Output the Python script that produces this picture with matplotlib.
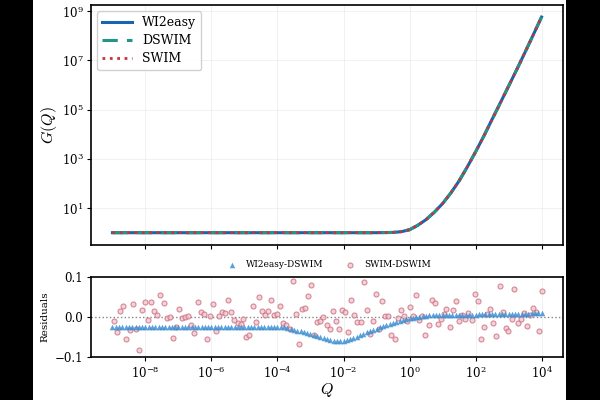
import numpy as np
import matplotlib
matplotlib.use("Agg")
import matplotlib.pyplot as plt
from matplotlib.patches import Rectangle
from matplotlib.ticker import NullLocator, FixedLocator

plt.rcParams['font.family'] = ['DejaVu Serif']
plt.rcParams['mathtext.fontset'] = 'dejavuserif'

# ---- main curve G(Q) (log10 values) ----
logQ_curve = [-9.0, -8.0, -7.0, -6.0, -5.0, -4.0, -3.0, -2.0, -1.0, -0.5, -0.25, 0.0,
              0.25, 0.5, 0.75, 1.0, 1.25, 1.5, 1.75, 2.0, 2.25, 2.5, 2.75, 3.0,
              3.25, 3.5, 3.75, 4.0]
logG_wi2easy = [0.0, 0.0, 0.0, 0.0, 0.0, 0.0, 0.0, 0.0, 0.0, 0.01, 0.04, 0.12,
                0.30, 0.53, 0.83, 1.18, 1.61, 2.10, 2.67, 3.28, 3.92, 4.60, 5.27, 5.95,
                6.63, 7.33, 8.04, 8.76]
logG_dswim = list(logG_wi2easy)
logG_swim = list(logG_wi2easy)

# ---- residuals: WI2easy - DSWIM ----
logQ_res1 = [round(-9.0 + 0.1 * i, 1) for i in range(131)]
res_wi2easy = ([-0.024] * 51 +
               [-0.025, -0.026, -0.028, -0.030, -0.032, -0.034, -0.036, -0.038, -0.041, -0.043,
                -0.046, -0.048, -0.051, -0.053, -0.055, -0.057, -0.059, -0.060, -0.060, -0.059,
                -0.057, -0.055, -0.052, -0.049, -0.046, -0.042, -0.038, -0.035, -0.032, -0.029,
                -0.026, -0.023, -0.020, -0.017, -0.015, -0.012, -0.009, -0.007, -0.005, -0.003,
                -0.002, 0.000, 0.001, 0.002, 0.003, 0.004, 0.004, 0.005, 0.005, 0.005,
                0.005, 0.006, 0.006, 0.006, 0.006, 0.006, 0.006, 0.006, 0.006, 0.006,
                0.007, 0.007, 0.007, 0.007, 0.007, 0.007, 0.007, 0.007, 0.007, 0.007,
                0.008, 0.008, 0.008, 0.008, 0.008, 0.008, 0.009, 0.009, 0.009, 0.010])

# ---- residuals: SWIM - DSWIM ----
logQ_res2 = [-8.95, -8.86, -8.76, -8.68, -8.58, -8.48, -8.39, -8.29, -8.21, -8.11,
             -8.02, -7.92, -7.83, -7.74, -7.65, -7.55, -7.45, -7.36, -7.26, -7.18,
             -7.08, -6.99, -6.90, -6.81, -6.71, -6.62, -6.52, -6.42, -6.33, -6.24,
             -6.15, -6.05, -5.96, -5.87, -5.78, -5.68, -5.59, -5.50, -5.40, -5.31,
             -5.21, -5.12, -5.03, -4.94, -4.85, -4.75, -4.66, -4.57, -4.48, -4.38,
             -4.28, -4.20, -4.10, -4.01, -3.91, -3.82, -3.73, -3.63, -3.54, -3.45,
             -3.35, -3.25, -3.16, -3.07, -2.98, -2.89, -2.79, -2.70, -2.61, -2.51,
             -2.42, -2.32, -2.23, -2.13, -2.04, -1.95, -1.85, -1.76, -1.67, -1.58,
             -1.48, -1.39, -1.30, -1.20, -1.11, -1.01, -0.92, -0.83, -0.74, -0.64,
             -0.55, -0.45, -0.36, -0.26, -0.17, -0.08, 0.01, 0.11, 0.20, 0.29,
             0.38, 0.48, 0.58, 0.67, 0.77, 0.85, 0.94, 1.04, 1.12, 1.22,
             1.31, 1.40, 1.50, 1.60, 1.69, 1.78, 1.88, 1.97, 2.06, 2.16,
             2.25, 2.34, 2.44, 2.52, 2.61, 2.73, 2.82, 2.91, 2.99, 3.09,
             3.18, 3.28, 3.37, 3.46, 3.55, 3.64, 3.74, 3.84, 3.93, 4.00]
res_swim = [-0.010, -0.037, 0.014, 0.027, -0.056, -0.033, 0.033, -0.029, -0.082, 0.017,
            0.037, -0.008, 0.037, 0.015, 0.004, 0.055, 0.034, -0.003, 0.000, -0.053,
            -0.024, 0.020, -0.003, 0.001, 0.002, -0.020, -0.039, 0.038, 0.012, 0.007,
            -0.054, 0.002, 0.032, -0.035, 0.003, 0.012, 0.010, 0.043, 0.012, -0.007,
            -0.015, -0.018, -0.004, -0.049, -0.046, 0.028, -0.012, 0.050, 0.015, 0.004,
            0.015, 0.043, 0.004, 0.008, 0.027, -0.014, -0.021, -0.029, 0.091, 0.008,
            -0.068, 0.021, 0.023, 0.052, 0.079, -0.044, -0.012, -0.009, 0.001, -0.021,
            -0.029, 0.014, -0.010, -0.030, 0.017, 0.012, -0.037, 0.042, 0.005, -0.012,
            -0.012, 0.087, 0.017, -0.042, -0.010, 0.057, -0.031, 0.039, 0.002, 0.002,
            -0.044, -0.054, -0.002, 0.017, 0.003, -0.010, 0.025, 0.002, 0.054, -0.007,
            0.002, -0.044, -0.020, 0.042, 0.035, -0.018, -0.004, 0.008, 0.021, -0.026,
            0.017, 0.041, -0.010, 0.006, -0.006, 0.010, -0.007, 0.057, 0.041, -0.054,
            -0.024, 0.007, 0.019, -0.016, -0.048, 0.077, 0.013, -0.027, -0.034, -0.005,
            0.069, -0.016, -0.004, 0.009, -0.022, 0.005, 0.022, 0.013, -0.034, 0.066]

xticks = [1e-8, 1e-6, 1e-4, 1e-2, 1e0, 1e2, 1e4]
yticks_top = [1e1, 1e3, 1e5, 1e7, 1e9]

Qc = 10.0 ** np.array(logQ_curve)
Q1 = 10.0 ** np.array(logQ_res1)
Q2 = 10.0 ** np.array(logQ_res2)

fig = plt.figure(figsize=(6, 4), dpi=100)
fig.patch.set_facecolor('black')
fig.patches.append(Rectangle((33 / 600, 0), (566 - 33) / 600, 1, transform=fig.transFigure,
                             facecolor='white', edgecolor='none', zorder=-10))

ax1 = fig.add_axes([91 / 600, 155 / 400, 472 / 600, 240 / 400])
ax2 = fig.add_axes([91 / 600, 43 / 400, 472 / 600, 80 / 400], sharex=ax1)

ax1.plot(Qc, 10.0 ** np.array(logG_wi2easy), '-', color='#1565b0', lw=2.2, label='WI2easy')
ax1.plot(Qc, 10.0 ** np.array(logG_dswim), '--', color='#21958a', lw=2.2, label='DSWIM',
         dashes=(5, 3))
ax1.plot(Qc, 10.0 ** np.array(logG_swim), ':', color='#c8323f', lw=2.0, label='SWIM')
ax1.set_xscale('log')
ax1.set_yscale('log')
ax1.set_ylim(10 ** -0.5, 10 ** 9.25)
ax1.set_xlim(10 ** -9.65, 10 ** 4.65)
ax1.yaxis.set_major_locator(FixedLocator(yticks_top))
ax1.yaxis.set_minor_locator(NullLocator())
ax1.xaxis.set_major_locator(FixedLocator(xticks))
ax1.xaxis.set_minor_locator(NullLocator())
ax1.tick_params(labelbottom=False, labelsize=8.5, length=3, pad=2.5)
ax1.grid(True, color='#e4e4e4', lw=0.6, alpha=0.6)
ax1.set_ylabel('$G(Q)$', fontsize=11.5, math_fontfamily='cm', labelpad=2)
leg = ax1.legend(loc='upper left', fontsize=9, handlelength=2.4, framealpha=0.9,
                 borderaxespad=0.5, labelspacing=0.4)
leg.get_frame().set_edgecolor('#cccccc')

ax2.scatter(Q1, res_wi2easy, marker='^', s=16, color='#3f8fd2', alpha=0.85, linewidths=0,
            label='WI2easy-DSWIM', zorder=3)
ax2.scatter(Q2, res_swim, marker='o', s=13, facecolor='#f2c4cc', edgecolor='#c8697c',
            linewidths=0.8, alpha=0.75, label='SWIM-DSWIM', zorder=2)
ax2.axhline(0, color='#888888', ls=':', lw=1.0, zorder=1)
ax2.set_ylim(-0.1, 0.1)
ax2.set_yticks([-0.1, 0.0, 0.1])
ax2.set_yticklabels(['\u22120.1', '0.0', '0.1'])
ax2.xaxis.set_major_locator(FixedLocator(xticks))
ax2.xaxis.set_minor_locator(NullLocator())
ax2.tick_params(labelsize=8.5, length=3, pad=2.5)
ax2.grid(True, axis='x', color='#e4e4e4', lw=0.6, alpha=0.6)
ax2.set_ylabel('Residuals', fontsize=7.5)
ax2.set_xlabel('$Q$', fontsize=11.5, math_fontfamily='cm', labelpad=0)
ax2.legend(loc='lower center', bbox_to_anchor=(0.5, 1.0), ncol=2, frameon=False,
           fontsize=6.5, columnspacing=2.0, handletextpad=0.5)

for ax in (ax1, ax2):
    for s in ax.spines.values():
        s.set_linewidth(1.2)

fig.savefig('out.png', dpi=100, facecolor=fig.get_facecolor())
